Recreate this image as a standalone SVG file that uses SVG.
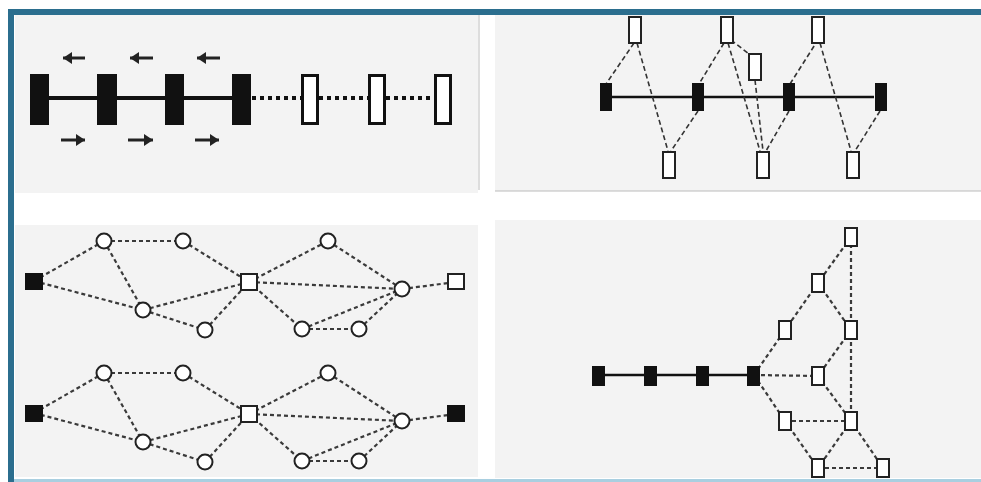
<svg xmlns="http://www.w3.org/2000/svg" width="981" height="482" viewBox="0 0 981 482">
<style>
.panel{fill:#f3f3f3}
.blk{fill:#111}
.wht{fill:#fff;stroke:#222;stroke-width:2}
.wht3{fill:#fff;stroke:#111;stroke-width:3}
.solid{stroke:#111;fill:none}
.dash{stroke:#333;stroke-width:1.6;stroke-dasharray:5 3;fill:none}
.dash2{stroke:#3a3a3a;stroke-width:2.2;stroke-dasharray:4 3;fill:none}
.dot{stroke:#111;stroke-width:4;stroke-dasharray:4 4;fill:none}
.arr{stroke:#222;stroke-width:3;fill:none}
</style>
<defs>
<marker id="ah" viewBox="0 0 9 12" refX="9" refY="6" markerWidth="9" markerHeight="12" orient="auto" markerUnits="userSpaceOnUse">
<path d="M0,0 L9,6 L0,12 Z" fill="#222"/>
</marker>
</defs>
<rect width="981" height="482" fill="#fff"/>
<!-- panels -->
<rect class="panel" x="15" y="15" width="463" height="178"/>
<line x1="479" y1="15" x2="479" y2="190" stroke="#bbb" stroke-width="1"/>
<rect class="panel" x="495" y="15" width="486" height="176"/>
<line x1="495" y1="191" x2="981" y2="191" stroke="#bbb" stroke-width="1"/>
<rect class="panel" x="15" y="225" width="463" height="252"/>
<rect class="panel" x="495" y="220" width="486" height="258"/>
<!-- frame -->
<rect x="8" y="9" width="973" height="6" fill="#2b6e8e"/>
<rect x="8" y="9" width="6" height="473" fill="#2b6e8e"/>
<rect x="14" y="479" width="967" height="3" fill="#a9cfe0"/>

<!-- ===== connectors ===== -->
<g id="connectors">
  <!-- top-left -->
  <line class="solid" stroke-width="4" x1="49" y1="98" x2="232" y2="98"/>
  <line class="dot" x1="252" y1="98" x2="301" y2="98"/>
  <line class="dot" x1="319" y1="98" x2="368" y2="98"/>
  <line class="dot" x1="386" y1="98" x2="434" y2="98"/>
  <line class="arr" x1="85" y1="58" x2="63" y2="58" marker-end="url(#ah)"/>
  <line class="arr" x1="153" y1="58" x2="130" y2="58" marker-end="url(#ah)"/>
  <line class="arr" x1="220" y1="58" x2="197" y2="58" marker-end="url(#ah)"/>
  <line class="arr" x1="61" y1="140" x2="85" y2="140" marker-end="url(#ah)"/>
  <line class="arr" x1="128" y1="140" x2="153" y2="140" marker-end="url(#ah)"/>
  <line class="arr" x1="195" y1="140" x2="219" y2="140" marker-end="url(#ah)"/>
  <!-- top-right -->
  <line class="solid" stroke-width="2.5" x1="612" y1="97" x2="874" y2="97"/>
  <line class="dash" x1="634" y1="43" x2="606" y2="84"/>
  <line class="dash" x1="637" y1="43" x2="668" y2="151"/>
  <line class="dash" x1="724" y1="43" x2="699" y2="84"/>
  <line class="dash" x1="728" y1="43" x2="760" y2="151"/>
  <line class="dash" x1="731" y1="40" x2="749" y2="54"/>
  <line class="dash" x1="755" y1="80" x2="763" y2="151"/>
  <line class="dash" x1="698" y1="111" x2="671" y2="151"/>
  <line class="dash" x1="789" y1="111" x2="766" y2="151"/>
  <line class="dash" x1="790" y1="84" x2="816" y2="43"/>
  <line class="dash" x1="820" y1="43" x2="851" y2="151"/>
  <line class="dash" x1="880" y1="111" x2="855" y2="151"/>
  <!-- bottom-left, upper graph -->
  <g class="dash2">
    <line x1="34" y1="281" x2="104" y2="241"/>
    <line x1="34" y1="281" x2="143" y2="310"/>
    <line x1="104" y1="241" x2="183" y2="241"/>
    <line x1="104" y1="241" x2="143" y2="310"/>
    <line x1="183" y1="241" x2="249" y2="282"/>
    <line x1="143" y1="310" x2="249" y2="282"/>
    <line x1="143" y1="310" x2="205" y2="330"/>
    <line x1="205" y1="330" x2="249" y2="282"/>
    <line x1="249" y1="282" x2="328" y2="241"/>
    <line x1="249" y1="282" x2="402" y2="289"/>
    <line x1="249" y1="282" x2="302" y2="329"/>
    <line x1="328" y1="241" x2="402" y2="289"/>
    <line x1="302" y1="329" x2="359" y2="329"/>
    <line x1="302" y1="329" x2="402" y2="289"/>
    <line x1="359" y1="329" x2="402" y2="289"/>
    <line x1="402" y1="289" x2="456" y2="282"/>
  </g>
  <!-- bottom-left, lower graph -->
  <g class="dash2" transform="translate(0,132)">
    <line x1="34" y1="281" x2="104" y2="241"/>
    <line x1="34" y1="281" x2="143" y2="310"/>
    <line x1="104" y1="241" x2="183" y2="241"/>
    <line x1="104" y1="241" x2="143" y2="310"/>
    <line x1="183" y1="241" x2="249" y2="282"/>
    <line x1="143" y1="310" x2="249" y2="282"/>
    <line x1="143" y1="310" x2="205" y2="330"/>
    <line x1="205" y1="330" x2="249" y2="282"/>
    <line x1="249" y1="282" x2="328" y2="241"/>
    <line x1="249" y1="282" x2="402" y2="289"/>
    <line x1="249" y1="282" x2="302" y2="329"/>
    <line x1="328" y1="241" x2="402" y2="289"/>
    <line x1="302" y1="329" x2="359" y2="329"/>
    <line x1="302" y1="329" x2="402" y2="289"/>
    <line x1="359" y1="329" x2="402" y2="289"/>
    <line x1="402" y1="289" x2="456" y2="282"/>
  </g>
  <!-- bottom-right -->
  <line class="solid" stroke-width="2.5" x1="598" y1="375" x2="754" y2="375"/>
  <g class="dash2">
    <line x1="754" y1="375" x2="818" y2="376"/>
    <line x1="754" y1="375" x2="785" y2="330"/>
    <line x1="754" y1="375" x2="785" y2="421"/>
    <line x1="851" y1="237" x2="818" y2="283"/>
    <line x1="851" y1="237" x2="851" y2="421"/>
    <line x1="818" y1="283" x2="785" y2="330"/>
    <line x1="818" y1="283" x2="851" y2="330"/>
    <line x1="851" y1="330" x2="818" y2="376"/>
    <line x1="818" y1="376" x2="851" y2="421"/>
    <line x1="785" y1="421" x2="851" y2="421"/>
    <line x1="785" y1="421" x2="818" y2="468"/>
    <line x1="851" y1="421" x2="818" y2="468"/>
    <line x1="851" y1="421" x2="883" y2="468"/>
    <line x1="818" y1="468" x2="883" y2="468"/>
  </g>
</g>

<!-- ===== top-left nodes ===== -->
<g id="tl-b1"><rect class="blk" x="30" y="74" width="19" height="51"/></g>
<g id="tl-b2"><rect class="blk" x="97" y="74" width="20" height="51"/></g>
<g id="tl-b3"><rect class="blk" x="165" y="74" width="19" height="51"/></g>
<g id="tl-b4"><rect class="blk" x="232" y="74" width="19" height="51"/></g>
<g id="tl-w1"><rect class="wht3" x="302.5" y="75.5" width="15" height="48"/></g>
<g id="tl-w2"><rect class="wht3" x="369.5" y="75.5" width="15" height="48"/></g>
<g id="tl-w3"><rect class="wht3" x="435.5" y="75.5" width="15" height="48"/></g>

<!-- ===== top-right nodes ===== -->
<g id="tr-b1"><rect class="blk" x="600" y="83" width="12" height="28"/></g>
<g id="tr-b2"><rect class="blk" x="692" y="83" width="12" height="28"/></g>
<g id="tr-b3"><rect class="blk" x="783" y="83" width="12" height="28"/></g>
<g id="tr-b4"><rect class="blk" x="875" y="83" width="12" height="28"/></g>
<g id="tr-t1"><rect class="wht" x="629" y="17" width="12" height="26"/></g>
<g id="tr-t2"><rect class="wht" x="721" y="17" width="12" height="26"/></g>
<g id="tr-t3"><rect class="wht" x="812" y="17" width="12" height="26"/></g>
<g id="tr-m"><rect class="wht" x="749" y="54" width="12" height="26"/></g>
<g id="tr-u1"><rect class="wht" x="663" y="152" width="12" height="26"/></g>
<g id="tr-u2"><rect class="wht" x="757" y="152" width="12" height="26"/></g>
<g id="tr-u3"><rect class="wht" x="847" y="152" width="12" height="26"/></g>

<!-- ===== bottom-left upper graph nodes ===== -->
<g id="bl1-s"><rect class="blk" x="25" y="273" width="18" height="17"/></g>
<g id="bl1-a"><circle class="wht" cx="104" cy="241" r="7.5"/></g>
<g id="bl1-b"><circle class="wht" cx="183" cy="241" r="7.5"/></g>
<g id="bl1-c"><circle class="wht" cx="143" cy="310" r="7.5"/></g>
<g id="bl1-d"><circle class="wht" cx="205" cy="330" r="7.5"/></g>
<g id="bl1-m"><rect class="wht" x="241" y="274" width="16" height="16"/></g>
<g id="bl1-e"><circle class="wht" cx="328" cy="241" r="7.5"/></g>
<g id="bl1-f"><circle class="wht" cx="402" cy="289" r="7.5"/></g>
<g id="bl1-g"><circle class="wht" cx="302" cy="329" r="7.5"/></g>
<g id="bl1-h"><circle class="wht" cx="359" cy="329" r="7.5"/></g>
<g id="bl1-t"><rect class="wht" x="448" y="274" width="16" height="15"/></g>

<!-- ===== bottom-left lower graph nodes ===== -->
<g id="bl2-s"><rect class="blk" x="25" y="405" width="18" height="17"/></g>
<g id="bl2-a"><circle class="wht" cx="104" cy="373" r="7.5"/></g>
<g id="bl2-b"><circle class="wht" cx="183" cy="373" r="7.5"/></g>
<g id="bl2-c"><circle class="wht" cx="143" cy="442" r="7.5"/></g>
<g id="bl2-d"><circle class="wht" cx="205" cy="462" r="7.5"/></g>
<g id="bl2-m"><rect class="wht" x="241" y="406" width="16" height="16"/></g>
<g id="bl2-e"><circle class="wht" cx="328" cy="373" r="7.5"/></g>
<g id="bl2-f"><circle class="wht" cx="402" cy="421" r="7.5"/></g>
<g id="bl2-g"><circle class="wht" cx="302" cy="461" r="7.5"/></g>
<g id="bl2-h"><circle class="wht" cx="359" cy="461" r="7.5"/></g>
<g id="bl2-t"><rect class="blk" x="447" y="405" width="18" height="17"/></g>

<!-- ===== bottom-right nodes ===== -->
<g id="br-b1"><rect class="blk" x="592" y="366" width="13" height="20"/></g>
<g id="br-b2"><rect class="blk" x="644" y="366" width="13" height="20"/></g>
<g id="br-b3"><rect class="blk" x="696" y="366" width="13" height="20"/></g>
<g id="br-b4"><rect class="blk" x="747" y="366" width="13" height="20"/></g>
<g id="br-s1"><rect class="wht" x="845" y="228" width="12" height="18"/></g>
<g id="br-s2"><rect class="wht" x="812" y="274" width="12" height="18"/></g>
<g id="br-s3"><rect class="wht" x="779" y="321" width="12" height="18"/></g>
<g id="br-s4"><rect class="wht" x="845" y="321" width="12" height="18"/></g>
<g id="br-s5"><rect class="wht" x="812" y="367" width="12" height="18"/></g>
<g id="br-s6"><rect class="wht" x="779" y="412" width="12" height="18"/></g>
<g id="br-s7"><rect class="wht" x="845" y="412" width="12" height="18"/></g>
<g id="br-s8"><rect class="wht" x="812" y="459" width="12" height="18"/></g>
<g id="br-s9"><rect class="wht" x="877" y="459" width="12" height="18"/></g>
</svg>
